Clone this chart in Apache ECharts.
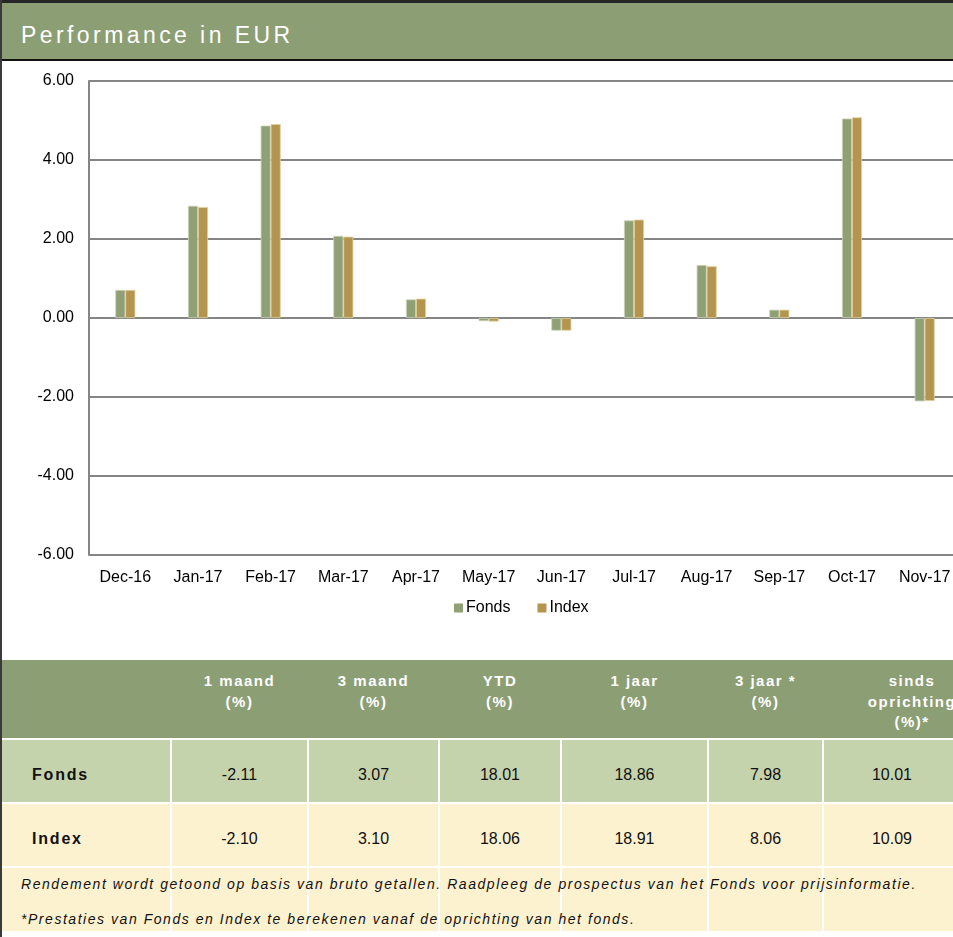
<!DOCTYPE html>
<html>
<head>
<meta charset="utf-8">
<script src="https://cdn.jsdelivr.net/npm/echarts@6/dist/echarts.min.js"></script>
<style>
  html, body { margin: 0; padding: 0; width: 953px; height: 937px; overflow: hidden; background: #fff; font-family: "Liberation Sans", Arial, sans-serif; }
  #leftBorder { position: absolute; left: 0; top: 0; width: 2px; height: 937px; background: #3a3a3a; z-index: 10; }
  #topBorder { position: absolute; left: 0; top: 0; width: 953px; height: 3px; background: #262626; z-index: 9; }
  #header { position: absolute; left: 0; top: 3px; width: 953px; height: 56px; background: #8c9e73; }
  #headerLine { position: absolute; left: 0; top: 59px; width: 953px; height: 2px; background: #111; }
  #title { position: absolute; left: 21px; top: 24px; font-size: 23px; line-height: 23px; color: #fff; white-space: nowrap; z-index: 5; }
  #chart { position: absolute; left: 2px; top: 61px; width: 990px; height: 590px; }
  .cell { position: absolute; box-sizing: border-box; }
  .txt { position: absolute; white-space: nowrap; }
</style>
</head>
<body>
<div id="header"></div>
<div id="headerLine"></div>
<div id="topBorder"></div>
<div id="leftBorder"></div>
<div id="title" class="fit" data-w="269">Performance in EUR</div>
<div id="chart"></div>
<div id="table"></div>
<script>
// ---- data ----
const categories = ['Dec-16','Jan-17','Feb-17','Mar-17','Apr-17','May-17','Jun-17','Jul-17','Aug-17','Sep-17','Oct-17','Nov-17'];
const fondsMonthly = [0.71, 2.84, 4.87, 2.08, 0.47, -0.08, -0.32, 2.47, 1.34, 0.21, 5.05, -2.11];
const indexMonthly = [0.71, 2.81, 4.91, 2.06, 0.49, -0.09, -0.32, 2.49, 1.31, 0.21, 5.08, -2.10];
const seriesNames = ['Fonds', 'Index'];
const yMin = -6, yMax = 6, yStep = 2;

const periodHeaders = [['1 maand','(%)'], ['3 maand','(%)'], ['YTD','(%)'], ['1 jaar','(%)'], ['3 jaar *','(%)'], ['sinds','oprichting','(%)*']];
const fondsPerf = [-2.11, 3.07, 18.01, 18.86, 7.98, 10.01];
const indexPerf = [-2.10, 3.10, 18.06, 18.91, 8.06, 10.09];
const footnotes = [
  'Rendement wordt getoond op basis van bruto getallen. Raadpleeg de prospectus van het Fonds voor prijsinformatie.',
  '*Prestaties van Fonds en Index te berekenen vanaf de oprichting van het fonds.'
];

// ---- chart ----
const GREEN = '#8fa074', GOLD = '#b39550';
const chart = echarts.init(document.getElementById('chart'), null, { renderer: 'canvas' });
chart.setOption({
  animation: false,
  backgroundColor: '#fff',
  textStyle: { fontFamily: 'Liberation Sans, Arial, sans-serif' },
  grid: { left: 87, top: 20, width: 872, height: 474, containLabel: false },
  legend: {
    data: seriesNames, left: 447, top: 534, icon: 'rect', itemWidth: 9, itemHeight: 9, itemGap: 27,
    itemStyle: { borderWidth: 0 },
    textStyle: { fontSize: 16, color: '#000', padding: [0, 0, 0, -2] }
  },
  xAxis: {
    type: 'category', data: categories,
    axisLine: { show: false }, axisTick: { show: false },
    axisLabel: { fontSize: 16, color: '#000', margin: 15, interval: 0 }
  },
  yAxis: {
    type: 'value', min: yMin, max: yMax, interval: yStep,
    axisLine: { show: true, lineStyle: { color: '#858585', width: 2 } },
    axisTick: { show: false },
    splitLine: { show: true, lineStyle: { color: '#858585', width: 2 } },
    axisLabel: { fontSize: 16, color: '#000', margin: 15, formatter: v => v.toFixed(2) }
  },
  series: [
    { name: seriesNames[0], type: 'bar', data: fondsMonthly, barWidth: 10, barGap: '0%',
      itemStyle: { color: GREEN, borderColor: '#c9d1b6', borderWidth: 0.8 } },
    { name: seriesNames[1], type: 'bar', data: indexMonthly, barWidth: 10, barGap: '0%',
      itemStyle: { color: GOLD, borderColor: '#e2cf9c', borderWidth: 0.8 } }
  ]
});

// ---- table ----
const colEdges = [[2,170],[172,307],[309,438],[440,560],[562,707],[709,822],[824,960]];
const T = document.getElementById('table');
function add(html, style, cls) {
  const d = document.createElement('div');
  d.className = cls || 'cell';
  Object.assign(d.style, style);
  d.innerHTML = html;
  T.appendChild(d);
  return d;
}
// header row
add('', { left: '2px', top: '660px', width: '951px', height: '78px', background: '#8c9e73' });
periodHeaders.forEach((lines, i) => {
  const [l, r] = colEdges[i + 1];
  const shift = (i === periodHeaders.length - 1) ? 20 : 0;
  add(lines.join('<br>'), {
    left: (l + shift) + 'px', top: '671px', width: (r - l) + 'px', textAlign: 'center',
    color: '#fff', fontWeight: 'bold', fontSize: '15px', lineHeight: '20.5px', letterSpacing: '1.5px'
  }, 'txt');
});
// data rows
const rows = [
  { label: seriesNames[0], vals: fondsPerf, top: 740, h: 62, bg: '#c5d3ad' },
  { label: seriesNames[1], vals: indexPerf, top: 804, h: 62, bg: '#fdf2cf' }
];
rows.forEach(row => {
  colEdges.forEach(([l, r], i) => {
    add('', { left: l + 'px', top: row.top + 'px', width: (r - l) + 'px', height: row.h + 'px', background: row.bg });
  });
  add(row.label, { left: '32px', top: (row.top + 4) + 'px', height: row.h + 'px', lineHeight: row.h + 'px',
    fontWeight: 'bold', fontSize: '16px', letterSpacing: '1.8px', color: '#111' }, 'txt');
  row.vals.forEach((v, i) => {
    const [l, r] = colEdges[i + 1];
    const w = (i === row.vals.length - 1) ? 136 : (r - l);
    add(v.toFixed(2), { left: l + 'px', top: (row.top + 4) + 'px', width: w + 'px', height: row.h + 'px',
      lineHeight: row.h + 'px', textAlign: 'center', fontSize: '16px', color: '#111' }, 'txt');
  });
});
// footnote block
colEdges.forEach(([l, r]) => {
  add('', { left: l + 'px', top: '868px', width: (r - l) + 'px', height: '63px', background: '#fdf2cf' });
});
const fnTops = [875, 910];
const fnWidths = [894, 613];
footnotes.forEach((t, i) => {
  const d = add(t, { left: '21px', top: fnTops[i] + 'px', fontSize: '14px', lineHeight: '18px',
    fontStyle: 'italic', color: '#111' }, 'txt fit');
  d.dataset.w = fnWidths[i];
});
// fit letter spacing to measured widths
document.querySelectorAll('.fit').forEach(el => {
  el.style.letterSpacing = '0px';
  const w = el.getBoundingClientRect().width;
  const n = el.textContent.length;
  const target = +el.dataset.w;
  el.style.letterSpacing = ((target - w) / (n - 1)).toFixed(2) + 'px';
});
</script>
</body>
</html>
